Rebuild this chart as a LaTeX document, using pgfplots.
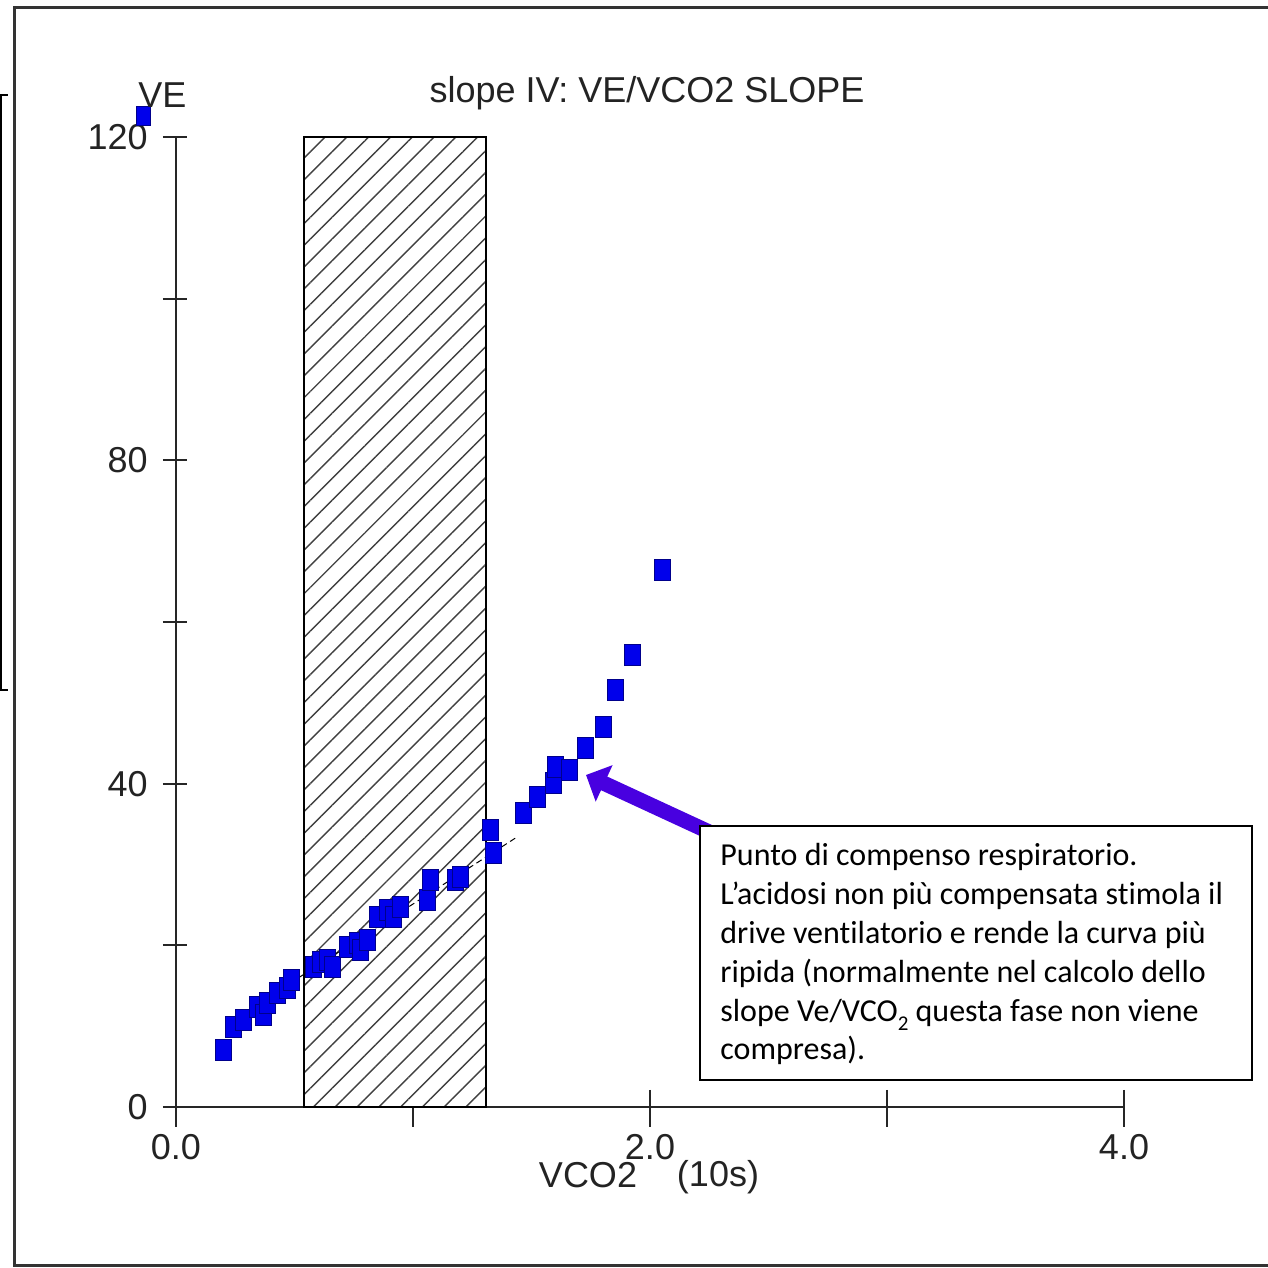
\documentclass[border=0pt]{standalone}
\usepackage{fontspec}
\setmainfont{Liberation Sans}
\newfontfamily\carlito[Ligatures=NoCommon]{Carlito}
\usepackage{pgfplots}
\pgfplotsset{compat=1.18}
\usetikzlibrary{patterns.meta,arrows.meta}
\definecolor{ptblue}{RGB}{0,0,235}
\definecolor{ptedge}{RGB}{0,0,140}
\definecolor{arrowc}{RGB}{72,0,224}
\definecolor{txt}{RGB}{35,35,35}
\begin{document}
\begin{tikzpicture}
\useasboundingbox (-88pt,-80.5pt) rectangle (546pt,553.5pt);
\fill[white] (-88pt,-80.5pt) rectangle (546pt,553.5pt);
% ticks (axis maps x -> 118.5pt per unit, y -> 4.041667pt per unit, origin at (0,0))
\foreach \yy in {0,20,40,60,80,100,120} {
  \draw[line width=1pt, black!85] (-6.5pt,{\yy*4.041667pt}) -- (5.5pt,{\yy*4.041667pt});
}
\foreach \xx in {0,2,3,4} {
  \draw[line width=1pt, black!85] ({\xx*118.5pt},8.5pt) -- ({\xx*118.5pt},-10pt);
}
\draw[line width=1pt, black!85] (118.5pt,0pt) -- (118.5pt,-10pt);
\begin{axis}[
  x=118.5pt, y=4.041667pt,
  xmin=0, xmax=4, ymin=0, ymax=120,
  clip=false,
  axis x line=bottom, axis y line=left,
  axis line style={-, line width=1pt, color=black!85},
  xtick={0,1,2,3,4}, xticklabels={0.0,,2.0,,4.0},
  ytick={0,20,40,60,80,100,120}, yticklabels={0,,40,,80,,120},
  tick style={draw=none}, major tick length=0pt, tick align=inside,
  tick label style={font=\fontsize{18}{20}\selectfont, text=txt},
  xticklabel style={anchor=center, inner sep=0pt, yshift=-20pt},
  yticklabel style={anchor=east, inner sep=0pt, xshift=-14pt},
  /pgf/number format/assume math mode=true,
]
\fill[white] (axis cs:0.54,0) rectangle (axis cs:1.308,120);
% data
\addplot[only marks, mark=square*, mark size=4pt,
  mark options={yscale=1.31, fill=ptblue, draw=ptedge, line width=0.4pt}]
coordinates {
(0.198,7.1) (0.241,9.9) (0.283,10.8) (0.342,12.4) (0.367,11.4) (0.384,12.9)
(0.426,14.1) (0.468,14.7) (0.489,15.7) (0.578,17.3) (0.608,17.9) (0.637,18.2)
(0.662,17.3) (0.722,19.8) (0.764,20.3) (0.776,19.4) (0.806,20.7) (0.848,23.5)
(0.890,24.4) (0.916,23.5) (0.945,24.8) (1.059,25.6) (1.072,28.1) (1.177,28.1)
(1.198,28.5) (1.325,34.3) (1.338,31.4) (1.464,36.4) (1.523,38.4) (1.591,40.1)
(1.599,42.1) (1.662,41.7) (1.726,44.4) (1.802,47.0) (1.852,51.6) (1.924,55.9)
(2.051,66.5)
};
\addplot[only marks, mark=square*, mark size=3.5pt,
  mark options={yscale=1.31, fill=ptblue, draw=ptedge, line width=0.4pt}]
coordinates {(-0.139,122.6)};
\fill[pattern={Lines[angle=45,distance=7.7pt,line width=0.7pt]}, pattern color=black!75]
  (axis cs:0.54,0) rectangle (axis cs:1.308,120);
\addplot[black, line width=0.5pt, dash pattern=on 3pt off 2pt] coordinates {(0.523,16.1) (1.439,33.4)};
\draw[line width=1.2pt, black] (axis cs:0.54,0) rectangle (axis cs:1.308,120);
\end{axis}
% labels
\node[font=\fontsize{18}{20}\selectfont, text=txt] at (235.5pt,507pt) {slope IV: VE/VCO2 SLOPE};
\node[font=\fontsize{18}{20}\selectfont, text=txt] at (-6.75pt,506pt) {VE};
\node[font=\fontsize{18}{20}\selectfont, text=txt] at (206pt,-34pt) {VCO2};
\node[font=\fontsize{18}{20}\selectfont, text=txt] at (271pt,-35pt) {(10s)};
% frame
\draw[line width=1.5pt, black!80] (547pt,549.5pt) -- (-80.5pt,549.5pt) -- (-80.5pt,-79pt) -- (547pt,-79pt);
\draw[line width=1pt, black] (-84pt,506pt) -- (-87.5pt,506pt) -- (-87.5pt,208.5pt) -- (-84pt,208.5pt);
% arrow and annotation
\draw[arrowc, line width=7.5pt, -{Triangle[length=10pt,width=19.5pt]}] (272pt,135pt) -- (205pt,166pt);
\draw[fill=white, line width=1pt] (262pt,13.5pt) rectangle (538pt,140.5pt);
\begin{scope}[every node/.style={anchor=base west, inner sep=0pt, font=\carlito\fontsize{16}{19.4}\selectfont}]
\node at (272pt,120.5pt) {Punto di compenso respiratorio.};
\node at (272pt,101.1pt) {L’acidosi non più compensata stimola il};
\node at (272pt,81.7pt) {drive ventilatorio e rende la curva più};
\node at (272pt,62.3pt) {ripida (normalmente nel calcolo dello};
\node at (272pt,42.9pt) {slope Ve/VCO\raisebox{-0.28em}{\fontsize{10.5}{10.5}\selectfont 2} questa fase non viene};
\node at (272pt,23.5pt) {compresa).};
\end{scope}
\end{tikzpicture}
\end{document}
